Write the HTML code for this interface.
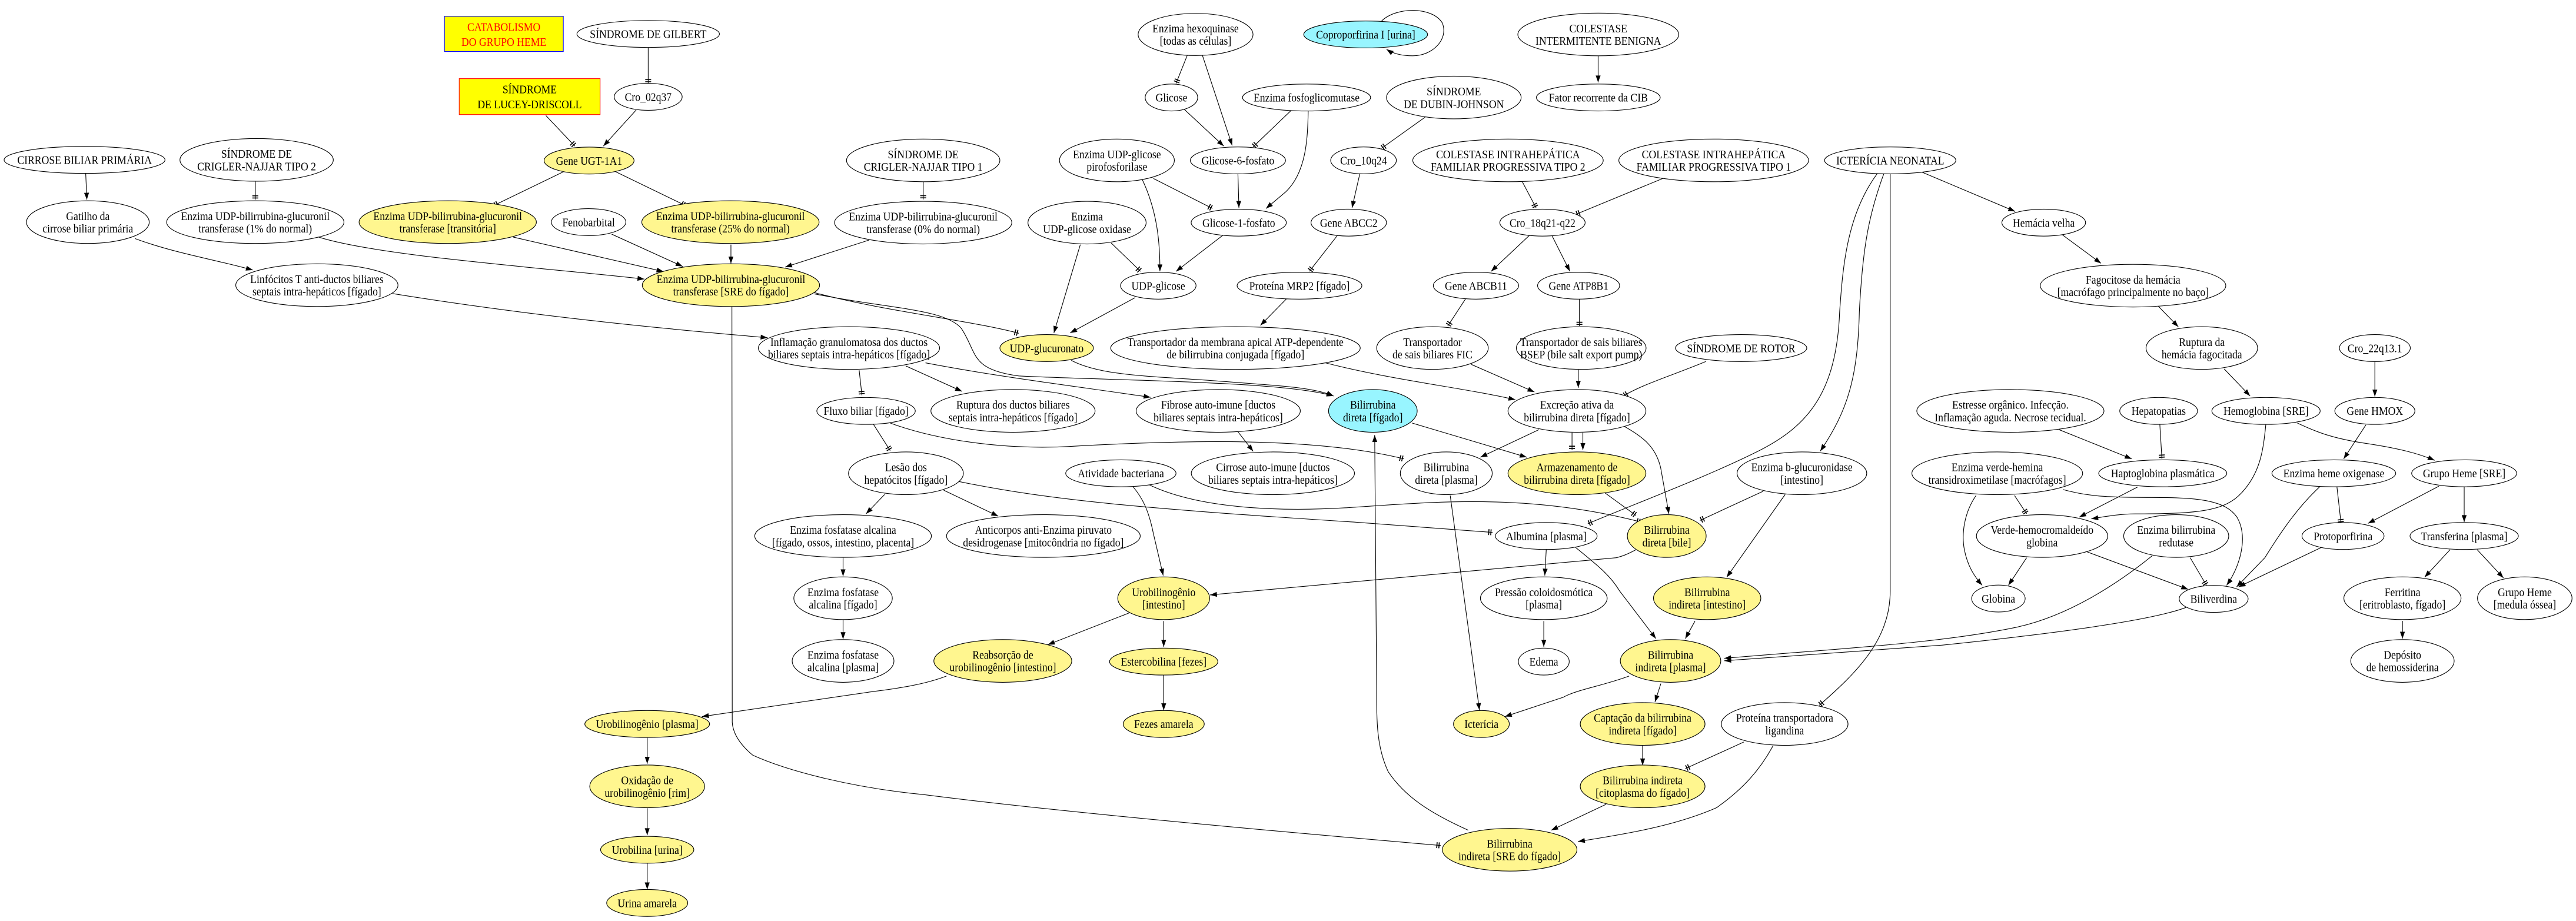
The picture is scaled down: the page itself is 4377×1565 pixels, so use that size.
<!DOCTYPE html>
<html><head><meta charset="utf-8">
<style>
html,body{margin:0;padding:0;background:#fff;}
svg{display:block;}
text{font-family:"Liberation Serif",serif;font-size:7.2px;fill:#000;text-anchor:middle;}
ellipse{fill:#fff;stroke:#000;stroke-width:0.4;}
ellipse.y{fill:#fff68f;}
ellipse.c{fill:#98f5ff;}
path.e{fill:none;stroke:#000;stroke-width:0.4;}
</style></head><body>
<svg width="4377" height="1565" viewBox="0 0 1568 561" xmlns="http://www.w3.org/2000/svg">
<defs>
<marker id="a" markerUnits="userSpaceOnUse" viewBox="-5 -2.5 5 5" markerWidth="5" markerHeight="5" refX="0" refY="0" orient="auto">
<path d="M0,0 L-4.2,-1.5 L-4.2,1.5 Z" fill="#000"/>
</marker>
<marker id="b" markerUnits="userSpaceOnUse" viewBox="-5 -2.5 5 5" markerWidth="5" markerHeight="5" refX="0" refY="0" orient="auto">
<path d="M-1,-1.8 L-1,1.8 M-2.3,-1.8 L-2.3,1.8" stroke="#000" stroke-width="0.6" fill="none"/>
</marker>
</defs>
<rect width="1568" height="561" fill="#fff"/>

<!-- EDGES -->
<g>
<path class="e" d="M394.3,29 L394.3,50.8" marker-end="url(#b)"/>
<path class="e" d="M332,70.4 L349.6,89" marker-end="url(#b)"/>
<path class="e" d="M387,67 L367,89" marker-end="url(#a)"/>
<path class="e" d="M343.6,104.2 L300.2,125.2" marker-end="url(#b)"/>
<path class="e" d="M373.6,104.2 L417,125.2" marker-end="url(#b)"/>
<path class="e" d="M51.7,105.7 L52.4,121.6" marker-end="url(#a)"/>
<path class="e" d="M155,110.6 L155,121.6" marker-end="url(#b)"/>
<path class="e" d="M81.7,145.3 C105,154 130,158 153.5,164.5" marker-end="url(#a)"/>
<path class="e" d="M193.5,144.4 C230,156 330,163 392,170" marker-end="url(#a)"/>
<path class="e" d="M312,144.4 L403.6,165.4" marker-end="url(#a)"/>
<path class="e" d="M372,142.6 L415.3,162.3" marker-end="url(#a)"/>
<path class="e" d="M444.7,149 L444.7,160.5" marker-end="url(#a)"/>
<path class="e" d="M528.9,146.2 L477.7,162.7" marker-end="url(#a)"/>
<path class="e" d="M561.8,110.5 L561.8,121.5" marker-end="url(#b)"/>
<path class="e" d="M238.5,178.8 C320,192 400,200 467,205.7" marker-end="url(#a)"/>
<path class="e" d="M495.4,178.2 C540,190 590,195 620,203" marker-end="url(#b)"/>
<path class="e" d="M495.4,179 C540,188 575,188 585,200 C595,215 590,225 620,229 C680,232 780,232 811.7,241.2" marker-end="url(#a)"/>
<path class="e" d="M445.3,187 L445.5,440 C446,448 452,455 458,460 C480,470 520,480 562,484 C640,494 760,505 877,515" marker-end="url(#b)"/>

<path class="e" d="M722.6,33.8 L715.8,50.8" marker-end="url(#b)"/>
<path class="e" d="M731.9,33.8 L750,88.6" marker-end="url(#a)"/>
<path class="e" d="M720.9,66.7 L744.9,89" marker-end="url(#a)"/>
<path class="e" d="M786,67.2 L762.7,89.5" marker-end="url(#b)"/>
<path class="e" d="M796.3,67.6 C796,85 795,105 782.6,116.9 L770.6,127" marker-end="url(#a)"/>
<path class="e" d="M753.5,106 L754.1,126.6" marker-end="url(#a)"/>
<path class="e" d="M702,108.7 L738,127" marker-end="url(#b)"/>
<path class="e" d="M695.2,109.3 C705,130 706,150 706,165.3" marker-end="url(#a)"/>
<path class="e" d="M744.2,143.4 L715.8,165.3" marker-end="url(#a)"/>
<path class="e" d="M676.3,148 L694.2,165.3" marker-end="url(#b)"/>
<path class="e" d="M657.5,149 L641.4,202.8" marker-end="url(#a)"/>
<path class="e" d="M690.7,181.4 L651.3,202.8" marker-end="url(#a)"/>
<path class="e" d="M867.6,71.3 L840.9,90.4" marker-end="url(#b)"/>
<path class="e" d="M827.8,105.6 L823,126.6" marker-end="url(#a)"/>
<path class="e" d="M814.1,143.4 L797,165.3" marker-end="url(#b)"/>
<path class="e" d="M783.3,181.8 L767.2,198.2" marker-end="url(#a)"/>
<path class="e" d="M972.9,33.8 L972.9,50.2" marker-end="url(#a)"/>
<path class="e" d="M926.6,110.5 L935.1,126.6" marker-end="url(#b)"/>
<path class="e" d="M1012.3,108.7 L959.2,130.6" marker-end="url(#b)"/>
<path class="e" d="M931,143.4 L907.7,165.3" marker-end="url(#a)"/>
<path class="e" d="M944.7,143.4 L955.7,165.3" marker-end="url(#a)"/>
<path class="e" d="M892.3,181.8 L881.3,198.6" marker-end="url(#b)"/>
<path class="e" d="M961.5,181.8 L961.5,198.6" marker-end="url(#b)"/>
<path class="e" d="M895.7,222 L934.1,238.8" marker-end="url(#a)"/>
<path class="e" d="M960.8,225.3 L960.8,236.2" marker-end="url(#a)"/>
<path class="e" d="M806.6,221 C850,232 890,236 922.5,243.5" marker-end="url(#a)"/>
<path class="e" d="M1038.5,220.2 C1020,228 1000,234 988.3,241.2" marker-end="url(#b)"/>
<path class="e" d="M652,219.5 C670,229 700,229 740,232 C780,235 800,236 811.7,241.2" marker-end="url(#a)"/>
<path class="e" d="M522.8,225.6 L524.5,240.8" marker-end="url(#b)"/>
<path class="e" d="M551.2,222.9 L585.5,238.4" marker-end="url(#a)"/>
<path class="e" d="M563.2,221 C610,230 660,236 700.3,242" marker-end="url(#a)"/>
<path class="e" d="M753.5,263 L762.8,274.9" marker-end="url(#a)"/>
<path class="e" d="M531.4,258.3 L541.7,274.5" marker-end="url(#b)"/>
<path class="e" d="M541.7,257.7 C570,268 610,274 650,272 C720,268 800,266 854.6,279.5" marker-end="url(#b)"/>
<path class="e" d="M538.3,301.2 L527,313" marker-end="url(#a)"/>
<path class="e" d="M574.3,298.6 L607.5,314.4" marker-end="url(#a)"/>
<path class="e" d="M513,339.7 L513,351" marker-end="url(#a)"/>
<path class="e" d="M513,377.6 L513,389.3" marker-end="url(#a)"/>
<path class="e" d="M583.5,293.3 C640,305 700,310 824,318 L908.6,324.3" marker-end="url(#b)"/>
<path class="e" d="M689.8,296.7 C695,303 699,310 702,325 L708,350.6" marker-end="url(#a)"/>
<path class="e" d="M699.4,295.3 C730,310 780,312 824,309 C870,306 930,300 999,318" marker-end="url(#b)"/>
<path class="e" d="M996,334.8 C990,338 987,339 984,339.7 L736.5,362.4" marker-end="url(#a)"/>
<path class="e" d="M859.6,257.7 L929.4,278.5" marker-end="url(#a)"/>
<path class="e" d="M936.9,261.7 L901.2,278.5" marker-end="url(#a)"/>
<path class="e" d="M957,263.6 L957,274.1" marker-end="url(#b)"/>
<path class="e" d="M963.6,263.6 L963.6,274.1" marker-end="url(#a)"/>
<path class="e" d="M988.8,259.7 C1000,266 1008,272 1011,285 L1016,313" marker-end="url(#a)"/>
<path class="e" d="M977,300.2 L996,314" marker-end="url(#b)"/>
<path class="e" d="M1073.5,299.2 L1034.9,317" marker-end="url(#b)"/>
<path class="e" d="M1086.8,301.2 L1051.2,351.6" marker-end="url(#a)"/>
<path class="e" d="M1147,105.6 C1138,130 1134,150 1132,190 C1131,230 1125,250 1108.2,274.8" marker-end="url(#a)"/>
<path class="e" d="M1143,105.6 C1125,130 1122,160 1120,190 C1118,240 1100,260 1070,275 C1040,290 1000,305 966.6,319" marker-end="url(#b)"/>
<path class="e" d="M1150.8,105.6 L1150.8,360 C1150.8,390 1130,410 1107.6,429.6" marker-end="url(#b)"/>
<path class="e" d="M1169.3,104.5 L1226.9,128.8" marker-end="url(#a)"/>
<path class="e" d="M1255.5,142.9 L1279.2,160.4" marker-end="url(#a)"/>
<path class="e" d="M1314,186.4 L1326.3,199.1" marker-end="url(#a)"/>
<path class="e" d="M1354.2,224.7 L1370,241.2" marker-end="url(#a)"/>
<path class="e" d="M1446,220.2 L1446,241.5" marker-end="url(#a)"/>
<path class="e" d="M1253.6,261.7 L1297.9,279.5" marker-end="url(#a)"/>
<path class="e" d="M1315,258.3 L1316.3,279.5" marker-end="url(#b)"/>
<path class="e" d="M1379.6,258.3 C1378,275 1376,288 1365,300 C1355,311 1340,313 1300,313 C1290,313 1280,315 1273.3,316" marker-end="url(#a)"/>
<path class="e" d="M1398.8,257.7 C1410,263 1420,267 1440,270 C1460,273 1472,276 1482.4,280.4" marker-end="url(#a)"/>
<path class="e" d="M1440.6,258.7 L1427,279.5" marker-end="url(#a)"/>
<path class="e" d="M1301.6,296.6 L1265.9,315" marker-end="url(#a)"/>
<path class="e" d="M1226.5,301.8 L1233.9,313" marker-end="url(#b)"/>
<path class="e" d="M1203.1,301.8 C1196,312 1194,325 1196,335 C1198,345 1202,351 1206.8,356.5" marker-end="url(#a)"/>
<path class="e" d="M1256,298.2 C1270,302 1280,303 1310,303 C1340,303 1355,305 1362,315 C1369,327 1364,345 1355.7,356.5" marker-end="url(#a)"/>
<path class="e" d="M1233.9,339.7 L1222.8,356.5" marker-end="url(#a)"/>
<path class="e" d="M1270.8,336.2 L1332.3,359" marker-end="url(#a)"/>
<path class="e" d="M1333.5,339.7 L1343.4,356.5" marker-end="url(#b)"/>
<path class="e" d="M1310.2,338.7 C1290,355 1260,375 1228,382 C1180,392 1120,395 1049.7,401" marker-end="url(#a)"/>
<path class="e" d="M1331,370 C1310,378 1250,386 1182,393 L1049.7,402.5" marker-end="url(#a)"/>
<path class="e" d="M1412.3,296.6 C1400,308 1390,322 1379,339.7 L1361.8,357.5" marker-end="url(#a)"/>
<path class="e" d="M1422.9,296.6 L1425.4,318.8" marker-end="url(#b)"/>
<path class="e" d="M1484.9,296.2 L1441.8,318.8" marker-end="url(#a)"/>
<path class="e" d="M1500.4,296.6 L1500.4,318" marker-end="url(#a)"/>
<path class="e" d="M1413.5,333.4 L1363,357.5" marker-end="url(#a)"/>
<path class="e" d="M1491.8,334.8 L1476.3,351.6" marker-end="url(#a)"/>
<path class="e" d="M1508.3,334.8 L1524.3,352" marker-end="url(#a)"/>
<path class="e" d="M1462.8,378.2 L1462.8,389" marker-end="url(#a)"/>
<path class="e" d="M941.3,334.8 L940.4,350.6" marker-end="url(#a)"/>
<path class="e" d="M939.8,378.3 L939.8,394" marker-end="url(#a)"/>
<path class="e" d="M959.1,333.4 C972,344 980,350 986,360 L1008.1,389" marker-end="url(#a)"/>
<path class="e" d="M1031.9,378.3 L1026,389" marker-end="url(#a)"/>
<path class="e" d="M882.8,301.8 L900.6,432.5" marker-end="url(#a)"/>
<path class="e" d="M991.8,411.8 C975,418 960,420 951.7,424.7 L916.1,436.5" marker-end="url(#a)"/>
<path class="e" d="M1011.1,416.4 L1007.5,427.6" marker-end="url(#a)"/>
<path class="e" d="M1000,454.3 L1000,466.2" marker-end="url(#a)"/>
<path class="e" d="M1061.6,452 L1026,468.2" marker-end="url(#b)"/>
<path class="e" d="M1079.4,454.3 C1072,468 1062,480 1045,492 C1020,503 990,508 960.6,512.6" marker-end="url(#a)"/>
<path class="e" d="M977.8,489.9 L944.3,505.7" marker-end="url(#a)"/>
<path class="e" d="M893.8,505.7 C870,495 855,485 845,470 C838,455 838,440 838,420 L836.8,265" marker-end="url(#a)"/>
<path class="e" d="M687.4,373.3 L637.7,392.7" marker-end="url(#a)"/>
<path class="e" d="M708.3,378.3 L708.3,394" marker-end="url(#a)"/>
<path class="e" d="M708.3,411.2 L708.3,432.6" marker-end="url(#a)"/>
<path class="e" d="M576,411.8 C560,418 540,420 528,421.7 L427,436.5" marker-end="url(#a)"/>
<path class="e" d="M393.7,449.4 L393.7,465.2" marker-end="url(#a)"/>
<path class="e" d="M393.7,492.3 L393.7,508.7" marker-end="url(#a)"/>
<path class="e" d="M393.7,525.4 L393.7,541.7" marker-end="url(#a)"/>
<path class="e" d="M841,12.8 C850,4 872,4 878,14 C882,24 872,34 860,34 C852,34 847,32 844,30" marker-end="url(#a)"/>
</g>

<!-- BOXES -->
<rect x="270.2" y="9.9" width="72.4" height="21.5" fill="#ffff00" stroke="#0000ff" stroke-width="0.4"/>
<text x="306.4" y="18.8" style="fill:#ff0000" transform="translate(306.4,0) scale(.88,1) translate(-306.4,0)">CATABOLISMO</text>
<text x="306.4" y="28" style="fill:#ff0000" transform="translate(306.4,0) scale(.88,1) translate(-306.4,0)">DO GRUPO HEME</text>
<rect x="279.2" y="47.9" width="85.8" height="21.9" fill="#ffff00" stroke="#ff0000" stroke-width="0.4"/>
<text x="322.1" y="56.8" transform="translate(322.1,0) scale(.88,1) translate(-322.1,0)">SÍNDROME</text>
<text x="322.1" y="66" transform="translate(322.1,0) scale(.88,1) translate(-322.1,0)">DE LUCEY-DRISCOLL</text>

<!-- NODES -->
<g transform="translate(394.3,20.7)"><ellipse rx="43.4" ry="8.2"/><text transform="scale(.88,1)" y="2.5">SÍNDROME DE GILBERT</text></g>
<g transform="translate(394.3,59)"><ellipse rx="20.7" ry="8.2"/><text transform="scale(.88,1)" y="2.5">Cro_02q37</text></g>
<g transform="translate(358.3,97.8)"><ellipse class="y" rx="27.4" ry="8.2"/><text transform="scale(.88,1)" y="2.5">Gene UGT-1A1</text></g>
<g transform="translate(51,97.4)"><ellipse rx="49" ry="8.2"/><text transform="scale(.88,1)" y="2.5">CIRROSE BILIAR PRIMÁRIA</text></g>
<g transform="translate(155.8,97.4)"><ellipse rx="46.7" ry="13"/><text transform="scale(.88,1)"><tspan x="0" y="-1.3">SÍNDROME DE</tspan><tspan x="0" y="6.3">CRIGLER-NAJJAR TIPO 2</tspan></text></g>
<g transform="translate(561.8,97.7)"><ellipse rx="46.7" ry="13"/><text transform="scale(.88,1)"><tspan x="0" y="-1.3">SÍNDROME DE</tspan><tspan x="0" y="6.3">CRIGLER-NAJJAR TIPO 1</tspan></text></g>
<g transform="translate(53,135.3)"><ellipse rx="37.4" ry="13"/><text transform="scale(.88,1)"><tspan x="0" y="-1.3">Gatilho da</tspan><tspan x="0" y="6.3">cirrose biliar primária</tspan></text></g>
<g transform="translate(155,135.3)"><ellipse rx="54" ry="13"/><text transform="scale(.88,1)"><tspan x="0" y="-1.3">Enzima UDP-bilirrubina-glucuronil</tspan><tspan x="0" y="6.3">transferase (1% do normal)</tspan></text></g>
<g transform="translate(272.2,135.3)"><ellipse class="y" rx="54" ry="13"/><text transform="scale(.88,1)"><tspan x="0" y="-1.3">Enzima UDP-bilirrubina-glucuronil</tspan><tspan x="0" y="6.3">transferase [transitória]</tspan></text></g>
<g transform="translate(358,135.3)"><ellipse rx="22.7" ry="8.2"/><text transform="scale(.88,1)" y="2.5">Fenobarbital</text></g>
<g transform="translate(444.4,135.3)"><ellipse class="y" rx="54" ry="13"/><text transform="scale(.88,1)"><tspan x="0" y="-1.3">Enzima UDP-bilirrubina-glucuronil</tspan><tspan x="0" y="6.3">transferase (25% do normal)</tspan></text></g>
<g transform="translate(561.8,135.6)"><ellipse rx="54" ry="13"/><text transform="scale(.88,1)"><tspan x="0" y="-1.3">Enzima UDP-bilirrubina-glucuronil</tspan><tspan x="0" y="6.3">transferase (0% do normal)</tspan></text></g>
<g transform="translate(192.5,173.7)"><ellipse rx="49.4" ry="13"/><text transform="scale(.88,1)"><tspan x="0" y="-1.3">Linfócitos T anti-ductos biliares</tspan><tspan x="0" y="6.3">septais intra-hepáticos [fígado]</tspan></text></g>
<g transform="translate(444.7,173.7)"><ellipse class="y" rx="54" ry="13"/><text transform="scale(.88,1)"><tspan x="0" y="-1.3">Enzima UDP-bilirrubina-glucuronil</tspan><tspan x="0" y="6.3">transferase [SRE do fígado]</tspan></text></g>

<g transform="translate(727.7,21)"><ellipse rx="35" ry="12.8"/><text transform="scale(.88,1)"><tspan x="0" y="-1.3">Enzima hexoquinase</tspan><tspan x="0" y="6.3">[todas as células]</tspan></text></g>
<g transform="translate(831.3,21)"><ellipse class="c" rx="37.7" ry="8.2"/><text transform="scale(.88,1)" y="2.5">Coproporfirina I [urina]</text></g>
<g transform="translate(973,21)"><ellipse rx="49" ry="13"/><text transform="scale(.88,1)"><tspan x="0" y="-1.3">COLESTASE</tspan><tspan x="0" y="6.3">INTERMITENTE BENIGNA</tspan></text></g>
<g transform="translate(973,59.4)"><ellipse rx="37.7" ry="8.2"/><text transform="scale(.88,1)" y="2.5">Fator recorrente da CIB</text></g>
<g transform="translate(713,59.4)"><ellipse rx="16" ry="8.2"/><text transform="scale(.88,1)" y="2.5">Glicose</text></g>
<g transform="translate(795.3,59.4)"><ellipse rx="39" ry="8.2"/><text transform="scale(.88,1)" y="2.5">Enzima fosfoglicomutase</text></g>
<g transform="translate(885,59.4)"><ellipse rx="41" ry="13"/><text transform="scale(.88,1)"><tspan x="0" y="-1.3">SÍNDROME</tspan><tspan x="0" y="6.3">DE DUBIN-JOHNSON</tspan></text></g>
<g transform="translate(679.8,97.7)"><ellipse rx="35" ry="13"/><text transform="scale(.88,1)"><tspan x="0" y="-1.3">Enzima UDP-glicose</tspan><tspan x="0" y="6.3">pirofosforilase</tspan></text></g>
<g transform="translate(753.5,97.7)"><ellipse rx="29" ry="8.2"/><text transform="scale(.88,1)" y="2.5">Glicose-6-fosfato</text></g>
<g transform="translate(830,97.7)"><ellipse rx="20" ry="8.2"/><text transform="scale(.88,1)" y="2.5">Cro_10q24</text></g>
<g transform="translate(918,97.7)"><ellipse rx="58" ry="13"/><text transform="scale(.88,1)"><tspan x="0" y="-1.3">COLESTASE INTRAHEPÁTICA</tspan><tspan x="0" y="6.3">FAMILIAR PROGRESSIVA TIPO 2</tspan></text></g>
<g transform="translate(1043.3,97.7)"><ellipse rx="57.8" ry="13"/><text transform="scale(.88,1)"><tspan x="0" y="-1.3">COLESTASE INTRAHEPÁTICA</tspan><tspan x="0" y="6.3">FAMILIAR PROGRESSIVA TIPO 1</tspan></text></g>
<g transform="translate(1150.8,97.7)"><ellipse rx="40" ry="8.2"/><text transform="scale(.88,1)" y="2.5">ICTERÍCIA NEONATAL</text></g>
<g transform="translate(661.6,135.6)"><ellipse rx="36" ry="13"/><text transform="scale(.88,1)"><tspan x="0" y="-1.3">Enzima</tspan><tspan x="0" y="6.3">UDP-glicose oxidase</tspan></text></g>
<g transform="translate(754,135.6)"><ellipse rx="29" ry="8.2"/><text transform="scale(.88,1)" y="2.5">Glicose-1-fosfato</text></g>
<g transform="translate(821,135.6)"><ellipse rx="23" ry="8.2"/><text transform="scale(.88,1)" y="2.5">Gene ABCC2</text></g>
<g transform="translate(939,135.6)"><ellipse rx="26" ry="8.2"/><text transform="scale(.88,1)" y="2.5">Cro_18q21-q22</text></g>
<g transform="translate(1244.3,135.6)"><ellipse rx="25.5" ry="8.2"/><text transform="scale(.88,1)" y="2.5">Hemácia velha</text></g>
<g transform="translate(705,174)"><ellipse rx="23" ry="8.2"/><text transform="scale(.88,1)" y="2.5">UDP-glicose</text></g>
<g transform="translate(791,174)"><ellipse rx="38" ry="8.2"/><text transform="scale(.88,1)" y="2.5">Proteína MRP2 [fígado]</text></g>
<g transform="translate(898.5,174)"><ellipse rx="26" ry="8.2"/><text transform="scale(.88,1)" y="2.5">Gene ABCB11</text></g>
<g transform="translate(961,174)"><ellipse rx="25" ry="8.2"/><text transform="scale(.88,1)" y="2.5">Gene ATP8B1</text></g>
<g transform="translate(1298.7,174)"><ellipse rx="56.5" ry="13"/><text transform="scale(.88,1)"><tspan x="0" y="-1.3">Fagocitose da hemácia</tspan><tspan x="0" y="6.3">[macrófago principalmente no baço]</tspan></text></g>

<g transform="translate(516.6,212)"><ellipse rx="55.2" ry="13"/><text transform="scale(.88,1)"><tspan x="0" y="-1.3">Inflamação granulomatosa dos ductos</tspan><tspan x="0" y="6.3">biliares septais intra-hepáticos [fígado]</tspan></text></g>
<g transform="translate(637,212)"><ellipse class="y" rx="28.5" ry="8.2"/><text transform="scale(.88,1)" y="2.5">UDP-glucuronato</text></g>
<g transform="translate(752,212)"><ellipse rx="76" ry="13"/><text transform="scale(.88,1)"><tspan x="0" y="-1.3">Transportador da membrana apical ATP-dependente</tspan><tspan x="0" y="6.3">de bilirrubina conjugada [fígado]</tspan></text></g>
<g transform="translate(872,212)"><ellipse rx="34" ry="13"/><text transform="scale(.88,1)"><tspan x="0" y="-1.3">Transportador</tspan><tspan x="0" y="6.3">de sais biliares FIC</tspan></text></g>
<g transform="translate(962.6,212)"><ellipse rx="39.5" ry="13"/><text transform="scale(.88,1)"><tspan x="0" y="-1.3">Transportador de sais biliares</tspan><tspan x="0" y="6.3">BSEP (bile salt export pump)</tspan></text></g>
<g transform="translate(1060,212)"><ellipse rx="40" ry="8.2"/><text transform="scale(.88,1)" y="2.5">SÍNDROME DE ROTOR</text></g>
<g transform="translate(1340.6,212)"><ellipse rx="34" ry="13"/><text transform="scale(.88,1)"><tspan x="0" y="-1.3">Ruptura da</tspan><tspan x="0" y="6.3">hemácia fagocitada</tspan></text></g>
<g transform="translate(1446,212)"><ellipse rx="21.6" ry="8.2"/><text transform="scale(.88,1)" y="2.5">Cro_22q13.1</text></g>

<g transform="translate(527,250.3)"><ellipse rx="30" ry="8.2"/><text transform="scale(.88,1)" y="2.5">Fluxo biliar [fígado]</text></g>
<g transform="translate(616.5,250.3)"><ellipse rx="50" ry="13"/><text transform="scale(.88,1)"><tspan x="0" y="-1.3">Ruptura dos ductos biliares</tspan><tspan x="0" y="6.3">septais intra-hepáticos [fígado]</tspan></text></g>
<g transform="translate(741.5,250.3)"><ellipse rx="50" ry="13"/><text transform="scale(.88,1)"><tspan x="0" y="-1.3">Fibrose auto-imune [ductos</tspan><tspan x="0" y="6.3">biliares septais intra-hepáticos]</tspan></text></g>
<g transform="translate(835.7,250.3)"><ellipse class="c" rx="27" ry="13"/><text transform="scale(.88,1)"><tspan x="0" y="-1.3">Bilirrubina</tspan><tspan x="0" y="6.3">direta [fígado]</tspan></text></g>
<g transform="translate(960,250.3)"><ellipse rx="42" ry="13"/><text transform="scale(.88,1)"><tspan x="0" y="-1.3">Excreção ativa da</tspan><tspan x="0" y="6.3">bilirrubina direta [fígado]</tspan></text></g>
<g transform="translate(1224,250.3)"><ellipse rx="57" ry="13"/><text transform="scale(.88,1)"><tspan x="0" y="-1.3">Estresse orgânico. Infecção.</tspan><tspan x="0" y="6.3">Inflamação aguda. Necrose tecidual.</tspan></text></g>
<g transform="translate(1314.3,250.3)"><ellipse rx="23.7" ry="8.2"/><text transform="scale(.88,1)" y="2.5">Hepatopatias</text></g>
<g transform="translate(1379.7,250.3)"><ellipse rx="33" ry="8.2"/><text transform="scale(.88,1)" y="2.5">Hemoglobina [SRE]</text></g>
<g transform="translate(1446,250.3)"><ellipse rx="24.4" ry="8.2"/><text transform="scale(.88,1)" y="2.5">Gene HMOX</text></g>

<g transform="translate(551.3,288.3)"><ellipse rx="35" ry="13"/><text transform="scale(.88,1)"><tspan x="0" y="-1.3">Lesão dos</tspan><tspan x="0" y="6.3">hepatócitos [fígado]</tspan></text></g>
<g transform="translate(682.2,288.3)"><ellipse rx="33.6" ry="8.2"/><text transform="scale(.88,1)" y="2.5">Atividade bacteriana</text></g>
<g transform="translate(774.8,288.3)"><ellipse rx="49.7" ry="13"/><text transform="scale(.88,1)"><tspan x="0" y="-1.3">Cirrose auto-imune [ductos</tspan><tspan x="0" y="6.3">biliares septais intra-hepáticos]</tspan></text></g>
<g transform="translate(880.4,288.3)"><ellipse rx="28" ry="13"/><text transform="scale(.88,1)"><tspan x="0" y="-1.3">Bilirrubina</tspan><tspan x="0" y="6.3">direta [plasma]</tspan></text></g>
<g transform="translate(960,288.3)"><ellipse class="y" rx="42" ry="13"/><text transform="scale(.88,1)"><tspan x="0" y="-1.3">Armazenamento de</tspan><tspan x="0" y="6.3">bilirrubina direta [fígado]</tspan></text></g>
<g transform="translate(1097,288.3)"><ellipse rx="39.5" ry="13"/><text transform="scale(.88,1)"><tspan x="0" y="-1.3">Enzima b-glucuronidase</tspan><tspan x="0" y="6.3">[intestino]</tspan></text></g>
<g transform="translate(1216,288.3)"><ellipse rx="52" ry="13"/><text transform="scale(.88,1)"><tspan x="0" y="-1.3">Enzima verde-hemina</tspan><tspan x="0" y="6.3">transidroximetilase [macrófagos]</tspan></text></g>
<g transform="translate(1316.8,288.3)"><ellipse rx="39" ry="8.2"/><text transform="scale(.88,1)" y="2.5">Haptoglobina plasmática</text></g>
<g transform="translate(1421,288.3)"><ellipse rx="37.7" ry="8.2"/><text transform="scale(.88,1)" y="2.5">Enzima heme oxigenase</text></g>
<g transform="translate(1500.4,288.3)"><ellipse rx="32" ry="8.2"/><text transform="scale(.88,1)" y="2.5">Grupo Heme [SRE]</text></g>

<g transform="translate(513,326.5)"><ellipse rx="53.8" ry="13"/><text transform="scale(.88,1)"><tspan x="0" y="-1.3">Enzima fosfatase alcalina</tspan><tspan x="0" y="6.3">[fígado, ossos, intestino, placenta]</tspan></text></g>
<g transform="translate(635,326.5)"><ellipse rx="59" ry="13"/><text transform="scale(.88,1)"><tspan x="0" y="-1.3">Anticorpos anti-Enzima piruvato</tspan><tspan x="0" y="6.3">desidrogenase [mitocôndria no fígado]</tspan></text></g>
<g transform="translate(941.3,326.5)"><ellipse rx="31" ry="8.2"/><text transform="scale(.88,1)" y="2.5">Albumina [plasma]</text></g>
<g transform="translate(1014.7,326.5)"><ellipse class="y" rx="24" ry="13"/><text transform="scale(.88,1)"><tspan x="0" y="-1.3">Bilirrubina</tspan><tspan x="0" y="6.3">direta [bile]</tspan></text></g>
<g transform="translate(1243.3,326.5)"><ellipse rx="40" ry="13"/><text transform="scale(.88,1)"><tspan x="0" y="-1.3">Verde-hemocromaldeído</tspan><tspan x="0" y="6.3">globina</tspan></text></g>
<g transform="translate(1325,326.5)"><ellipse rx="32" ry="13"/><text transform="scale(.88,1)"><tspan x="0" y="-1.3">Enzima bilirrubina</tspan><tspan x="0" y="6.3">redutase</tspan></text></g>
<g transform="translate(1426.6,326.5)"><ellipse rx="25" ry="8.2"/><text transform="scale(.88,1)" y="2.5">Protoporfirina</text></g>
<g transform="translate(1500.4,326.5)"><ellipse rx="33" ry="8.2"/><text transform="scale(.88,1)" y="2.5">Transferina [plasma]</text></g>

<g transform="translate(513,364.4)"><ellipse rx="30" ry="13"/><text transform="scale(.88,1)"><tspan x="0" y="-1.3">Enzima fosfatase</tspan><tspan x="0" y="6.3">alcalina [fígado]</tspan></text></g>
<g transform="translate(708.3,364.4)"><ellipse class="y" rx="28" ry="13"/><text transform="scale(.88,1)"><tspan x="0" y="-1.3">Urobilinogênio</tspan><tspan x="0" y="6.3">[intestino]</tspan></text></g>
<g transform="translate(939.8,364.4)"><ellipse rx="38.6" ry="13"/><text transform="scale(.88,1)"><tspan x="0" y="-1.3">Pressão coloidosmótica</tspan><tspan x="0" y="6.3">[plasma]</tspan></text></g>
<g transform="translate(1039.3,364.4)"><ellipse class="y" rx="32.7" ry="13"/><text transform="scale(.88,1)"><tspan x="0" y="-1.3">Bilirrubina</tspan><tspan x="0" y="6.3">indireta [intestino]</tspan></text></g>
<g transform="translate(1216.7,364.6)"><ellipse rx="16.3" ry="8.2"/><text transform="scale(.88,1)" y="2.5">Globina</text></g>
<g transform="translate(1347.8,364.8)"><ellipse rx="21" ry="8.2"/><text transform="scale(.88,1)" y="2.5">Biliverdina</text></g>
<g transform="translate(1462.8,364.4)"><ellipse rx="35.7" ry="13"/><text transform="scale(.88,1)"><tspan x="0" y="-1.3">Ferritina</tspan><tspan x="0" y="6.3">[eritroblasto, fígado]</tspan></text></g>
<g transform="translate(1537.3,364.4)"><ellipse rx="28.8" ry="13"/><text transform="scale(.88,1)"><tspan x="0" y="-1.3">Grupo Heme</tspan><tspan x="0" y="6.3">[medula óssea]</tspan></text></g>

<g transform="translate(513,402.6)"><ellipse rx="31" ry="13"/><text transform="scale(.88,1)"><tspan x="0" y="-1.3">Enzima fosfatase</tspan><tspan x="0" y="6.3">alcalina [plasma]</tspan></text></g>
<g transform="translate(610.3,402.6)"><ellipse class="y" rx="42" ry="13"/><text transform="scale(.88,1)"><tspan x="0" y="-1.3">Reabsorção de</tspan><tspan x="0" y="6.3">urobilinogênio [intestino]</tspan></text></g>
<g transform="translate(708.3,403)"><ellipse class="y" rx="33" ry="8.2"/><text transform="scale(.88,1)" y="2.5">Estercobilina [fezes]</text></g>
<g transform="translate(939.8,403)"><ellipse rx="15.5" ry="8.2"/><text transform="scale(.88,1)" y="2.5">Edema</text></g>
<g transform="translate(1017,402.6)"><ellipse class="y" rx="30.6" ry="13"/><text transform="scale(.88,1)"><tspan x="0" y="-1.3">Bilirrubina</tspan><tspan x="0" y="6.3">indireta [plasma]</tspan></text></g>
<g transform="translate(1462.8,402.6)"><ellipse rx="31.5" ry="13"/><text transform="scale(.88,1)"><tspan x="0" y="-1.3">Depósito</tspan><tspan x="0" y="6.3">de hemossiderina</tspan></text></g>

<g transform="translate(393.7,441)"><ellipse class="y" rx="38" ry="8.2"/><text transform="scale(.88,1)" y="2.5">Urobilinogênio [plasma]</text></g>
<g transform="translate(708.3,441)"><ellipse class="y" rx="24.7" ry="8.2"/><text transform="scale(.88,1)" y="2.5">Fezes amarela</text></g>
<g transform="translate(901.8,441)"><ellipse class="y" rx="17" ry="8.2"/><text transform="scale(.88,1)" y="2.5">Icterícia</text></g>
<g transform="translate(1000,441)"><ellipse class="y" rx="38" ry="13"/><text transform="scale(.88,1)"><tspan x="0" y="-1.3">Captação da bilirrubina</tspan><tspan x="0" y="6.3">indireta [fígado]</tspan></text></g>
<g transform="translate(1086.5,441)"><ellipse rx="38.6" ry="13"/><text transform="scale(.88,1)"><tspan x="0" y="-1.3">Proteína transportadora</tspan><tspan x="0" y="6.3">ligandina</tspan></text></g>

<g transform="translate(393.7,479)"><ellipse class="y" rx="35" ry="13"/><text transform="scale(.88,1)"><tspan x="0" y="-1.3">Oxidação de</tspan><tspan x="0" y="6.3">urobilinogênio [rim]</tspan></text></g>
<g transform="translate(1000,479)"><ellipse class="y" rx="38" ry="13"/><text transform="scale(.88,1)"><tspan x="0" y="-1.3">Bilirrubina indireta</tspan><tspan x="0" y="6.3">[citoplasma do fígado]</tspan></text></g>
<g transform="translate(393.7,517.6)"><ellipse class="y" rx="28.4" ry="8.2"/><text transform="scale(.88,1)" y="2.5">Urobilina [urina]</text></g>
<g transform="translate(919,517.6)"><ellipse class="y" rx="41" ry="13"/><text transform="scale(.88,1)"><tspan x="0" y="-1.3">Bilirrubina</tspan><tspan x="0" y="6.3">indireta [SRE do fígado]</tspan></text></g>
<g transform="translate(393.7,550)"><ellipse class="y" rx="24.7" ry="8.2"/><text transform="scale(.88,1)" y="2.5">Urina amarela</text></g>
</svg>
</body></html>
